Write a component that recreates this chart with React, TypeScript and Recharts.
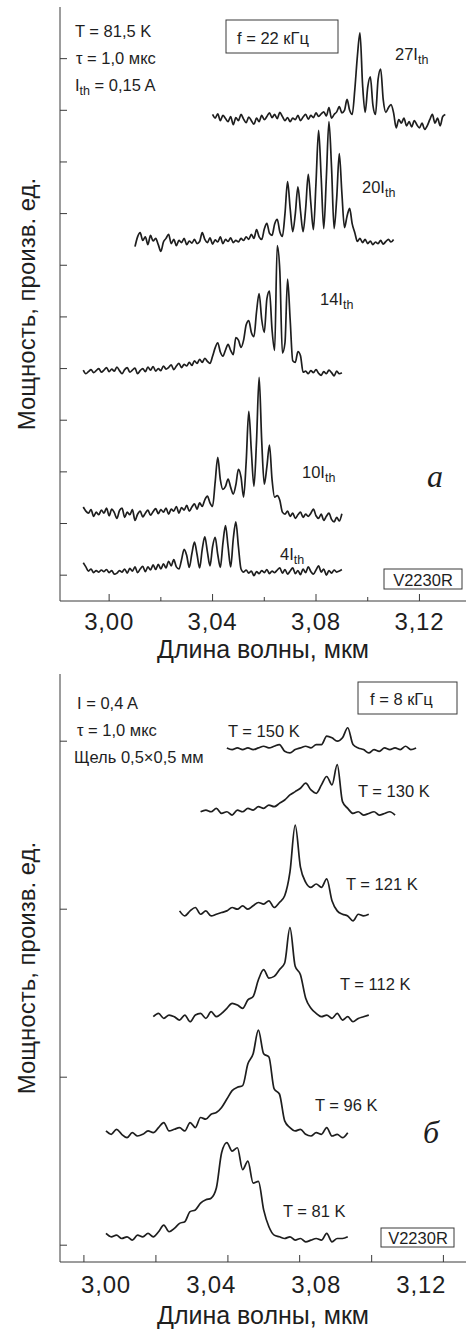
import React from 'react';
import { LineChart, Line, XAxis, YAxis, Label } from 'recharts';

const INK = '#1e1e1e';
const FRAME = '#3a3a3a';
const FONT = '"Liberation Sans", Arial, Helvetica, sans-serif';
const SERIF = '"Liberation Serif", "Times New Roman", serif';

// ---------- Panel a: spectra vs pump current (step 0.001 µm) ----------
const A_STEP = 0.001;
const a4Start = 2.99;
const a4 = [
  0.24, 0.16, 0.08, 0.12, 0.05, 0.09, 0.06, 0.10, 0.07, 0.11,
  0.05, 0.09, 0.02, 0.04, 0.09, 0.06, 0.12, 0.04, 0.13, 0.08,
  0.16, 0.05, 0.12, 0.17, 0.07, 0.16, 0.10, 0.20, 0.11, 0.21,
  0.12, 0.22, 0.14, 0.27, 0.18, 0.30, 0.16, 0.12, 0.30, 0.50,
  0.38, 0.15, 0.42, 0.64, 0.40, 0.14, 0.50, 0.74, 0.45, 0.18,
  0.55, 0.73, 0.40, 0.15, 0.62, 0.96, 0.55, 0.16, 0.70, 1.03,
  0.55, 0.12, 0.06, 0.10, 0.04, 0.08, -0.01, 0.07, 0.03, 0.09,
  0.05, 0.11, 0.03, 0.08, 0.05, 0.10, 0.14, 0.04, 0.11, 0.02,
  0.08, 0.14, 0.03, 0.09, 0.01, 0.12, 0.05, 0.16, 0.07, 0.02,
  0.10, 0.18, 0.06, 0.12, 0.00, 0.09, 0.04, 0.10, 0.06, 0.08,
  0.11,
];
const a10Start = 2.99;
const a10 = [
  1.32, 1.24, 1.20, 1.27, 1.14, 1.22, 1.17, 1.26, 1.20, 1.30,
  1.15, 1.28, 1.21, 1.10, 1.25, 1.30, 1.12, 1.22, 1.17, 1.27,
  1.06, 1.18, 1.24, 1.13, 1.20, 1.26, 1.16, 1.23, 1.29, 1.19,
  1.27, 1.22, 1.30, 1.18, 1.28, 1.24, 1.33, 1.20, 1.31, 1.26,
  1.35, 1.24, 1.32, 1.38, 1.28, 1.40, 1.33, 1.46, 1.53, 1.40,
  1.33, 1.80, 2.28, 1.85, 1.66, 1.72, 1.86, 1.70, 1.57, 1.75,
  2.05, 1.90, 1.51, 2.20, 3.17, 2.40, 1.72, 2.60, 3.83, 2.60,
  1.76, 2.10, 2.52, 1.85, 1.51, 1.54, 1.45, 1.22, 1.18, 1.24,
  1.14, 1.20, 1.10, 1.17, 1.22, 1.12, 1.18, 1.14, 1.20, 1.28,
  1.15, 1.10, 1.18, 1.06, 1.14, 1.20, 1.08, 1.03, 1.12, 1.05,
  1.19,
];
const a14Start = 2.99;
const a14 = [
  3.97, 3.90, 3.94, 3.98, 3.92, 3.96, 4.00, 3.93, 3.97, 4.02,
  3.94, 3.99, 3.95, 4.03, 3.96, 3.90, 3.98, 4.02, 3.93, 3.97,
  4.01, 3.90, 3.96, 4.00, 3.94, 4.03, 3.97, 4.04, 3.95, 4.00,
  3.96, 4.05, 3.99, 4.02, 4.07, 3.98, 4.05, 4.10, 4.02, 4.08,
  4.05, 4.12, 4.06, 4.15, 4.10, 4.18, 4.12, 4.20, 4.14, 4.10,
  4.24, 4.40, 4.50, 4.32, 4.24, 4.36, 4.47, 4.35, 4.27, 4.60,
  4.55, 4.41, 4.55, 4.85, 4.93, 4.70, 4.62, 5.10, 5.45, 4.95,
  4.70, 5.35, 5.50, 4.75, 4.35, 6.38, 5.90, 4.30, 4.50, 5.73,
  4.95, 4.15, 4.12, 4.33, 4.25, 3.93, 3.95, 3.90, 3.96, 3.92,
  3.98, 3.91, 3.87, 3.94, 3.90, 3.97, 3.92, 3.86, 3.95, 3.90,
  3.92,
];
const a20Start = 3.01;
const a20 = [
  6.36, 6.55, 6.63, 6.48, 6.55, 6.40, 6.58, 6.47, 6.52, 6.40,
  6.27, 6.45, 6.52, 6.60, 6.42, 6.50, 6.38, 6.48, 6.44, 6.52,
  6.40, 6.47, 6.43, 6.50, 6.42, 6.46, 6.63, 6.50, 6.44, 6.53,
  6.41, 6.49, 6.45, 6.55, 6.42, 6.50, 6.46, 6.53, 6.44, 6.48,
  6.45, 6.52, 6.48, 6.55, 6.50, 6.60, 6.52, 6.69, 6.55, 6.50,
  6.70, 6.81, 6.62, 6.58, 6.80, 6.89, 6.65, 6.56, 7.00, 7.62,
  7.10, 6.65, 7.00, 7.52, 7.05, 6.65, 7.10, 7.76, 7.20, 6.69,
  7.60, 8.61, 7.70, 6.71, 7.70, 8.78, 7.90, 6.71, 7.30, 8.16,
  7.40, 6.73, 6.95, 7.10, 6.80, 6.63, 6.46, 6.52, 6.44, 6.50,
  6.42, 6.47, 6.40, 6.45, 6.42, 6.48, 6.41, 6.46, 6.50, 6.45,
  6.50,
];
const a27Start = 3.04;
const a27 = [
  8.92, 8.85, 8.93, 8.80, 8.90, 8.84, 8.78, 8.88, 8.72, 8.86,
  8.80, 8.92, 8.83, 8.76, 8.87, 8.80, 8.73, 8.85, 8.78, 8.90,
  8.82, 8.88, 8.95, 8.86, 8.92, 8.84, 8.96, 8.88, 8.80, 8.86,
  8.78, 8.85, 8.82, 8.90, 8.80, 8.87, 8.92, 8.83, 8.90, 8.86,
  8.95, 8.88, 8.93, 8.97, 8.89, 9.05, 8.85, 8.92, 8.97, 9.07,
  8.95, 9.00, 9.21, 9.00, 8.92, 9.40, 10.05, 10.50, 9.50, 8.96,
  9.45, 9.65, 9.10, 8.92, 9.60, 9.80, 9.20, 8.96, 9.05, 9.11,
  8.95, 8.66, 8.82, 8.75, 8.85, 8.70, 8.78, 8.68, 8.80, 8.72,
  8.66, 8.75, 8.63, 8.70, 8.82, 8.92, 8.75, 8.85, 8.70, 8.88,
  8.92,
];

// ---------- Panel б: spectra vs temperature (step 0.002 µm) ----------
const B_STEP = 0.002;
const b81Start = 3.0;
const b81 = [
  0.07, 0.05, 0.06, 0.04, 0.05, 0.03, 0.06, 0.05, 0.07, 0.05,
  0.08, 0.12, 0.08, 0.10, 0.13, 0.14, 0.20, 0.21, 0.25, 0.27,
  0.28, 0.34, 0.55, 0.61, 0.56, 0.58, 0.45, 0.50, 0.37, 0.38,
  0.21, 0.11, 0.06, 0.05, 0.04, 0.05, 0.03, 0.04, 0.02, 0.03,
  0.04, 0.03, 0.07, 0.02, 0.04, 0.04, 0.05,
];
const b96Start = 3.0;
const b96 = [
  0.68, 0.66, 0.69, 0.66, 0.64, 0.67, 0.65, 0.66, 0.68, 0.67,
  0.70, 0.73, 0.68, 0.69, 0.70, 0.68, 0.73, 0.70, 0.76, 0.75,
  0.78, 0.79, 0.82, 0.87, 0.92, 0.94, 0.95, 1.08, 1.14, 1.28,
  1.14, 1.12, 0.93, 0.90, 0.74, 0.70, 0.68, 0.69, 0.66, 0.65,
  0.67, 0.66, 0.70, 0.65, 0.66, 0.64, 0.67,
];
const b112Start = 3.018;
const b112 = [
  1.36, 1.38, 1.35, 1.37, 1.36, 1.34, 1.37, 1.33, 1.37, 1.38,
  1.35, 1.39, 1.36, 1.38, 1.41, 1.44, 1.43, 1.41, 1.46, 1.48,
  1.58, 1.64, 1.59, 1.60, 1.64, 1.68, 1.89, 1.66, 1.61, 1.47,
  1.41, 1.38, 1.36, 1.37, 1.35, 1.38, 1.34, 1.36, 1.33, 1.35,
  1.36, 1.37,
];
const b121Start = 3.028;
const b121 = [
  1.99, 1.96, 1.99, 2.01, 1.97, 1.99, 1.96, 1.97, 1.98, 1.99,
  2.01, 2.00, 2.02, 2.00, 2.02, 2.04, 2.03, 2.05, 2.01, 2.04,
  2.08, 2.22, 2.50, 2.25, 2.16, 2.13, 2.15, 2.13, 2.18, 2.05,
  1.99, 1.97, 1.96, 1.93, 1.97, 1.96, 1.97,
];
const b130Start = 3.036;
const b130 = [
  2.58, 2.59, 2.58, 2.60, 2.57, 2.58, 2.56, 2.59, 2.58, 2.60,
  2.59, 2.61, 2.60, 2.62, 2.61, 2.63, 2.65, 2.68, 2.70, 2.72,
  2.75, 2.71, 2.69, 2.74, 2.79, 2.74, 2.86, 2.64, 2.60, 2.57,
  2.58, 2.56, 2.57, 2.58, 2.56, 2.57, 2.58, 2.56,
];
const b150Start = 3.046;
const b150 = [
  2.96, 2.95, 2.96, 2.95, 2.96, 2.95, 2.96, 2.97, 2.96, 2.97,
  2.98, 2.94, 2.93, 2.95, 2.96, 2.97, 2.96, 2.98, 2.98, 3.03,
  3.02, 3.00, 3.02, 3.08, 2.98, 2.96, 2.95, 2.93, 2.95, 2.94,
  2.96, 2.95, 2.96, 2.95, 2.97, 2.95, 2.96,
];

// ---------- Axes ----------
const xTicksA = [3.0, 3.02, 3.04, 3.06, 3.08, 3.1, 3.12];
const xLabels = [3.0, 3.04, 3.08, 3.12];
const xMarksB = [2.9916, 3.019, 3.0464, 3.0737, 3.1011, 3.1284];
const yTicksA = [0, 1, 2, 3, 4, 5, 6, 7, 8, 9, 10];
const yTicksB = [0, 1, 2, 3];
const domainXA: [number, number] = [2.981, 3.138];
const domainYA: [number, number] = [-0.5, 11];
const domainXB: [number, number] = [2.9825, 3.137];
const domainYB: [number, number] = [-0.1, 3.4];

const build = (start: number, step: number, ys: number[]) =>
  ys.map((y, i) => ({ x: +(start + i * step).toFixed(4), y }));

const seriesA = [
  build(a4Start, A_STEP, a4),
  build(a10Start, A_STEP, a10),
  build(a14Start, A_STEP, a14),
  build(a20Start, A_STEP, a20),
  build(a27Start, A_STEP, a27),
];
const seriesB = [
  build(b81Start, B_STEP, b81),
  build(b96Start, B_STEP, b96),
  build(b112Start, B_STEP, b112),
  build(b121Start, B_STEP, b121),
  build(b130Start, B_STEP, b130),
  build(b150Start, B_STEP, b150),
];

const isIn = (v: number, arr: number[]) => arr.some((a) => Math.abs(a - v) < 1e-6);
const fmt = (v: number) => v.toFixed(2).replace('.', ',');

const makeXTick = (labels: number[], marks: number[], longLen: number, shortLen: number, labelDy: number) =>
  (props: any) => {
    const { x, y, payload } = props;
    const v = payload.value as number;
    const lab = isIn(v, labels);
    const mark = isIn(v, marks);
    return (
      <g>
        {mark && <line x1={x} x2={x} y1={y} y2={y - (lab ? longLen : shortLen)} stroke={FRAME} strokeWidth={1} />}
        {lab && (
          <text x={x} y={y + labelDy} textAnchor="middle" fontSize={24} fontFamily={FONT} fill={INK} letterSpacing={0.8}>
            {fmt(v)}
          </text>
        )}
      </g>
    );
  };

const YTick = (props: any) => {
  const { x, y } = props;
  return <line x1={x} x2={x + 7} y1={y} y2={y} stroke={FRAME} strokeWidth={1} />;
};

const XTickA = makeXTick(xLabels, xTicksA, 7, 4, 29);
const XTickB = makeXTick(xLabels, xMarksB, 7, 7, 31);
const ticksB = [...xMarksB, ...xLabels].sort((p, q) => p - q);

const Panel = ({
  series, domX, domY, yTicks, xTicks, XTick, height, xAxisH, titleOffset, top,
}: any) => (
  <div style={{ position: 'absolute', left: 0, top }}>
    <LineChart width={468} height={height} margin={{ top: 7, right: 2, bottom: 0, left: 0 }}>
      <XAxis
        dataKey="x" type="number" domain={domX} allowDataOverflow ticks={xTicks} interval={0}
        height={xAxisH} tickSize={0} tickMargin={0} tickLine={false}
        axisLine={{ stroke: FRAME, strokeWidth: 1 }} tick={XTick}
      >
        <Label
          value="Длина волны, мкм" position="insideBottom" offset={titleOffset}
          style={{ fontSize: 25, fontFamily: FONT, fill: INK }}
        />
      </XAxis>
      <XAxis xAxisId="top" orientation="top" type="number" domain={domX} allowDataOverflow height={0}
        tick={false} tickLine={false} axisLine={{ stroke: FRAME, strokeWidth: 1 }} />
      <YAxis
        type="number" domain={domY} allowDataOverflow ticks={yTicks} interval={0} width={60}
        tickSize={0} tickMargin={0} tickLine={false} axisLine={{ stroke: FRAME, strokeWidth: 1 }} tick={YTick}
      >
        <Label
          value="Мощность, произв. ед." angle={-90} position="insideLeft" offset={26}
          style={{ fontSize: 24, fontFamily: FONT, fill: INK, textAnchor: 'middle' }}
        />
      </YAxis>
      <YAxis yAxisId="right" orientation="right" type="number" domain={domY} allowDataOverflow width={0}
        tick={false} tickLine={false} axisLine={{ stroke: FRAME, strokeWidth: 1 }} />
      {series.map((d: any[], i: number) => (
        <Line key={i} data={d} dataKey="y" type="monotone" dot={false} stroke={INK} strokeWidth={1.7}
          isAnimationActive={false} />
      ))}
    </LineChart>
  </div>
);

const T = ({ x, y, children, size = 16.5, anchor = 'start' }: any) => (
  <text x={x} y={y} fontSize={size} fontFamily={FONT} fill={INK} textAnchor={anchor}>{children}</text>
);

const Ith = ({ x, y, n }: any) => (
  <text x={x} y={y} fontSize={16.5} fontFamily={FONT} fill={INK}>
    {n}I<tspan dy={4} fontSize={12.5}>th</tspan>
  </text>
);

export default function App() {
  return (
    <div style={{ position: 'absolute', left: 0, top: 0, width: 468, height: 1330, overflow: 'hidden', background: '#fff' }}>
      <Panel series={seriesA} domX={domainXA} domY={domainYA} yTicks={yTicksA} xTicks={xTicksA}
        XTick={XTickA} height={670} xAxisH={69} titleOffset={12} top={0} />
      <Panel series={seriesB} domX={domainXB} domY={domainYB} yTicks={yTicksB} xTicks={ticksB}
        XTick={XTickB} height={663} xAxisH={68} titleOffset={6} top={667} />
      <svg width={468} height={1330} style={{ position: 'absolute', left: 0, top: 0, pointerEvents: 'none' }}>
        {/* panel a annotations */}
        <T x={75} y={37}>T = 81,5 K</T>
        <T x={76} y={64}>τ = 1,0 мкс</T>
        <text x={75} y={91} fontSize={16.5} fontFamily={FONT} fill={INK}>
          I<tspan dy={4} fontSize={12.5}>th</tspan><tspan dy={-4}> = 0,15 A</tspan>
        </text>
        <rect x={226} y={20} width={112} height={33} fill="none" stroke={FRAME} strokeWidth={1} />
        <T x={237} y={44}>f = 22 кГц</T>
        <Ith x={395} y={60} n="27" />
        <Ith x={362} y={193} n="20" />
        <Ith x={320} y={305} n="14" />
        <Ith x={302} y={478} n="10" />
        <Ith x={280} y={560} n="4" />
        <text x={435} y={487} fontSize={32} fontFamily={SERIF} fontStyle="italic" fill={INK} textAnchor="middle">a</text>
        <rect x={384} y={569} width={78} height={20} fill="none" stroke={FRAME} strokeWidth={1} />
        <T x={423} y={586} anchor="middle">V2230R</T>

        {/* panel б annotations */}
        <T x={77} y={709}>I = 0,4 A</T>
        <T x={77} y={736}>τ = 1,0 мкс</T>
        <T x={74} y={763}>Щель 0,5×0,5 мм</T>
        <rect x={358} y={682} width={99} height={32} fill="none" stroke={FRAME} strokeWidth={1} />
        <T x={370} y={705}>f = 8 кГц</T>
        <T x={228} y={737}>T = 150 K</T>
        <T x={358} y={797}>T = 130 K</T>
        <T x={346} y={890}>T = 121 K</T>
        <T x={340} y={990}>T = 112 K</T>
        <T x={315} y={1111}>T = 96 K</T>
        <text x={431} y={1143} fontSize={32} fontFamily={SERIF} fontStyle="italic" fill={INK} textAnchor="middle">б</text>
        <T x={283} y={1217}>T = 81 K</T>
        <rect x={381} y={1228} width={73} height={19} fill="none" stroke={FRAME} strokeWidth={1} />
        <T x={418} y={1244} anchor="middle">V2230R</T>
      </svg>
    </div>
  );
}
